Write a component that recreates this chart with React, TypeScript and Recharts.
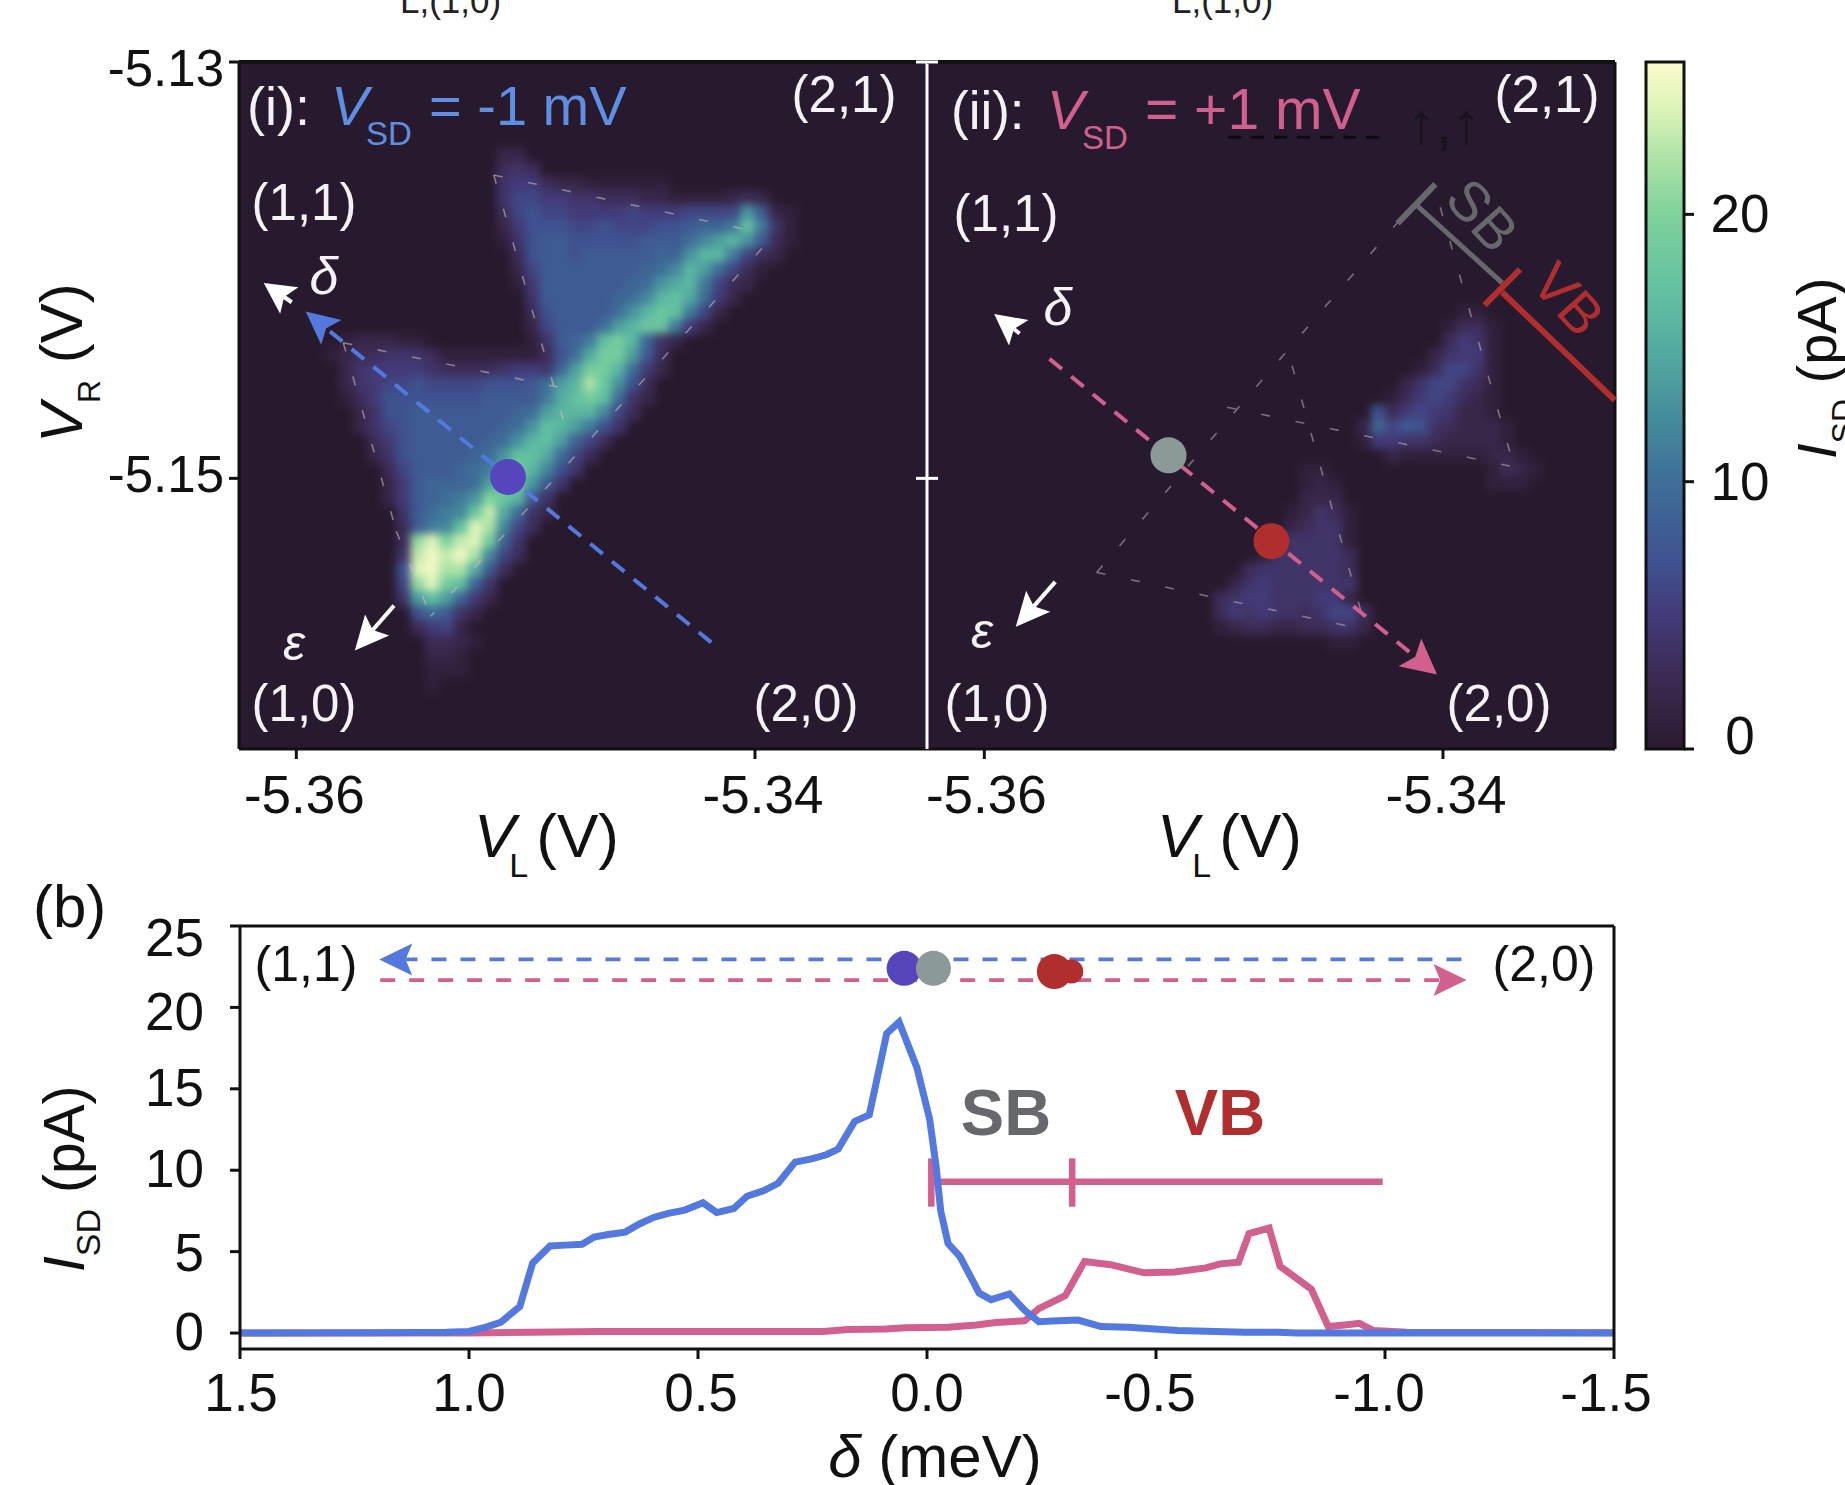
import { Bar, BarChart, CartesianGrid, Line, LineChart, ReferenceDot, ReferenceLine, Scatter, ScatterChart, XAxis, YAxis } from 'recharts';

const font = '"Liberation Sans", Arial, sans-serif';
const blue = '#5479DE';
const pink = '#D1608F';
const red = '#B02E2E';
const grey = '#66686C';
const white = '#F4F2F4';
const heatBack = '#281A2E';

// colour bar
const barValues = [0, 2.5, 5, 7, 10, 12.5, 15, 17, 20, 22, 24, 25.7];
const barColors = ['#2A1B2F', '#3B2A50', '#433A78', '#3F5290', '#3E6E98', '#458E9C', '#54ABA0', '#62C0A0', '#7ED29B', '#ABE2A6', '#DDF3B8', '#FBFBCB'];
const barTicks = [0, 10, 20];

// V_L / V_R axes of the two maps
const vlTicks = [-5.36, -5.34];
const vrTicks = [-5.15, -5.13];
const vlDomain = [-5.3625, -5.3325];
const vrDomain = [-5.163, -5.13];

// one string per heat map row, each char is a pA level in base 36
const leftFirstRow = 6;
const leftStarts = [18, 18, 18, 18, 18, 18, 18, 19, 19, 19, 20, 20, 20, 7, 6, 7, 7, 7, 8, 8, 9, 9, 10, 10, 10, 11, 11, 11, 11, 11, 11, 11, 12, 12, 13, 13, 13, 13];
const leftLevels = [
  '22', '343', '455322111111', '4665544333221111232', '36766555565556666d821', '2577766766677899bhb41',
  '1478877777888acegd831', '378878888899dggb632', '2688888889acgea631', '158888889adfgb632', '4888889acghfa52',
  '378888adgihb62', '26888aegiib52', '12221100000001489bhjg942', '12334443111111137afjje83', '2455554333345549ejjga52',
  '24566766667778aegmid73', '13577777778888bfhjha42', '247788888889aegggc63', '24678888889adhgeb74', '357888889adghe963',
  '24788889adhhfa63', '368889abgjgc74', '258999aejjd84', '2589abdkig84', '48abcinfa42', '38bchomc63', '3loknoj94',
  '4npnpmc63', '7opmmf83', '6lojh94', '4ehe952', '7a842', '3562', '3321', '221', '111', '1',
];

const rightFirstRow = 17;
const rightStarts = [37, 36, 36, 35, 34, 33, 32, 31, 30, 30, 32, 26, 26, 26, 25, 25, 24, 23, 22, 21, 20, 20, 20, 28];
const rightLevels = [
  '11', '1331', '3541', '24551', '136641', '2466431', '13565321', '735654221', '29687432221',
  '15544322221', '2111111221', '11000000000001321', '1210000000000111', '222', '12431', '23441', '344441', '1444443',
  '34444443', '245444444', '3455444552', '35454434663', '12332233442', '11',
];

// current traces of panel (b)
const blueDelta = [1.5, 1.208, 1.05, 1.0, 0.963, 0.931, 0.889, 0.861, 0.823, 0.79, 0.753, 0.727, 0.696, 0.659, 0.628, 0.597, 0.565, 0.529, 0.489, 0.459, 0.422, 0.393, 0.356, 0.325, 0.288, 0.252, 0.22, 0.194, 0.158, 0.126, 0.088, 0.061, 0.022, -0.006, -0.02, -0.03, -0.046, -0.072, -0.114, -0.14, -0.18, -0.213, -0.244, -0.286, -0.33, -0.38, -0.44, -0.547, -0.693, -0.766, -0.808, -1.5];
const blueCurrent = [0, 0.02, 0.05, 0.1, 0.37, 0.65, 1.63, 4.3, 5.35, 5.4, 5.45, 5.9, 6.05, 6.2, 6.7, 7.1, 7.35, 7.55, 8.0, 7.4, 7.65, 8.4, 8.75, 9.2, 10.5, 10.7, 10.95, 11.3, 13, 13.4, 18.4, 19.1, 16.3, 13.1, 10.2, 7.5, 5.5, 4.7, 2.45, 2.05, 2.4, 1.4, 0.7, 0.75, 0.8, 0.4, 0.35, 0.15, 0.05, 0.05, 0, 0];
const pinkDelta = [1.5, 1.0, 0.717, 0.226, 0.173, 0.09, 0.048, -0.046, -0.108, -0.15, -0.213, -0.244, -0.302, -0.344, -0.401, -0.474, -0.541, -0.609, -0.64, -0.68, -0.703, -0.747, -0.771, -0.839, -0.876, -0.912, -0.944, -0.975, -1.048, -1.5];
const pinkCurrent = [0, 0, 0.1, 0.1, 0.22, 0.25, 0.32, 0.35, 0.5, 0.65, 0.75, 1.5, 2.3, 4.4, 4.2, 3.7, 3.75, 4.0, 4.25, 4.35, 6.1, 6.45, 4.1, 2.7, 0.4, 0.5, 0.6, 0.15, 0.05, 0.02];
const deltaTicks = [1.5, 1.0, 0.5, 0, -0.5, -1.0, -1.5];
const currentTicks = [0, 5, 10, 15, 20, 25];

// faint bias triangle outlines, [V_L, V_R] pairs
const leftOutline = [
  [[-5.35139, -5.13543], [-5.3398, -5.13819]],
  [[-5.35139, -5.13543], [-5.34812, -5.14812]],
  [[-5.3397, -5.13896], [-5.35414, -5.15662]],
  [[-5.35795, -5.14349], [-5.34755, -5.14585]],
  [[-5.35795, -5.14349], [-5.35564, -5.15254]],
  [[-5.35564, -5.15254], [-5.35414, -5.15662]],
];
const rightOutline = [
  [[-5.3551, -5.15452], [-5.34335, -5.15728]],
  [[-5.3551, -5.15452], [-5.34193, -5.13764]],
  [[-5.34658, -5.14459], [-5.34335, -5.15728]],
  [[-5.34942, -5.14658], [-5.3369, -5.14945]],
  [[-5.34012, -5.13698], [-5.3369, -5.14945]],
];

const COLS = 48;
const heatCellWidth = 688 / COLS + 1;
const heatCellHeight = 687 / COLS + 1;
const OVER_HEAT = 700;

function buildCells(firstRow: number, starts: number[], levels: string[]) {
  const cells: { vl: number; vr: number; level: number }[] = [];
  levels.forEach((text, r) => {
    [...text].forEach((ch, c) => {
      const level = parseInt(ch, 36);
      if (!level) return;
      cells.push({
        vl: vlDomain[0] + ((starts[r] + c + 0.5) * (vlDomain[1] - vlDomain[0])) / COLS,
        vr: vrDomain[1] - ((firstRow + r + 0.5) * (vrDomain[1] - vrDomain[0])) / COLS,
        level,
      });
    });
  });
  return cells;
}

const leftCells = buildCells(leftFirstRow, leftStarts, leftLevels);
const rightCells = buildCells(rightFirstRow, rightStarts, rightLevels);
const blueRows = blueDelta.map((delta, i) => ({ delta, current: blueCurrent[i] }));
const pinkRows = pinkDelta.map((delta, i) => ({ delta, current: pinkCurrent[i] }));

const hex = (s: string) => [1, 3, 5].map((i) => parseInt(s.slice(i, i + 2), 16));
function levelColor(v: number) {
  let i = 0;
  while (i < barValues.length - 2 && v > barValues[i + 1]) i++;
  const t = Math.min(1, (v - barValues[i]) / (barValues[i + 1] - barValues[i]));
  const a = hex(barColors[i]);
  const b = hex(barColors[i + 1]);
  return `rgb(${a.map((n, k) => Math.round(n + (b[k] - n) * t)).join(',')})`;
}

const HeatCell = (p: any) => (
  <rect x={p.cx - heatCellWidth / 2} y={p.cy - heatCellHeight / 2} width={heatCellWidth} height={heatCellHeight} fill={levelColor(p.payload.level)} />
);

type ArrowOpts = { color: string; width: number; dash?: string; headLength?: number; headWidth?: number };
function arrowShape({ color, width, dash, headLength = 0, headWidth = 0 }: ArrowOpts) {
  return (p: any) => {
    const dx = p.x2 - p.x1;
    const dy = p.y2 - p.y1;
    const len = Math.hypot(dx, dy) || 1;
    const ux = dx / len;
    const uy = dy / len;
    const bx = p.x2 - ux * headLength;
    const by = p.y2 - uy * headLength;
    const nx = p.x2 - ux * headLength * 0.8;
    const ny = p.y2 - uy * headLength * 0.8;
    const w = headWidth / 2;
    return (
      <g>
        <line x1={p.x1} y1={p.y1} x2={headLength ? nx : p.x2} y2={headLength ? ny : p.y2} stroke={color} strokeWidth={width} strokeDasharray={dash} />
        {headLength > 0 && <polygon points={`${p.x2},${p.y2} ${bx - uy * w},${by + ux * w} ${nx},${ny} ${bx + uy * w},${by - ux * w}`} fill={color} />}
      </g>
    );
  };
}

function seg(a: number[], b: number[], opts: ArrowOpts, key?: string, zIndex = OVER_HEAT) {
  return (
    <ReferenceLine
      key={key}
      zIndex={zIndex}
      ifOverflow="visible"
      segment={[{ x: a[0], y: a[1] }, { x: b[0], y: b[1] }]}
      shape={arrowShape(opts)}
    />
  );
}

const tickText = (offsets: Record<string, number[]>, format: (v: number) => string, anchor: 'start' | 'middle' | 'end', size = 53) => (p: any) => {
  const [dx, dy] = offsets[String(p.payload.value)] ?? [0, 0];
  return (
    <text x={p.x + dx} y={p.y + dy} textAnchor={anchor} fontSize={size} fontFamily={font} fill="#111">
      {format(p.payload.value)}
    </text>
  );
};

const whiteTick = (p: any) => <line x1={p.x - 11} x2={p.x + 11} y1={p.y} y2={p.y} stroke="#fff" strokeWidth={3} />;

const black = { stroke: '#111', strokeWidth: 3 };
const layer = { position: 'absolute' as const, left: 0, top: 0 };

function T({ x, y, size = 49, fill = white, anchor = 'middle', italic, bold, rotate, children }: any) {
  return (
    <text
      x={x}
      y={y}
      fontSize={size}
      fill={fill}
      textAnchor={anchor}
      fontFamily={font}
      fontStyle={italic ? 'italic' : undefined}
      fontWeight={bold ? 700 : undefined}
      transform={rotate !== undefined ? `rotate(${rotate} ${x} ${y})` : undefined}
    >
      {children}
    </text>
  );
}

function VlTitle({ x }: { x: number }) {
  return (
    <T x={x} y={857} size={62} fill="#111" anchor="start">
      <tspan fontStyle="italic">V</tspan>
      <tspan fontSize={34} dy={20} dx={-6}>L</tspan>
      <tspan dy={-20} dx={8}>(V)</tspan>
    </T>
  );
}

function Labels() {
  return (
    <svg width={1845} height={1485} style={layer}>
      {/* cropped caption above the maps */}
      <T x={400} y={13} size={35} fill="#222" anchor="start">L,(1,0)</T>
      <T x={1172} y={13} size={35} fill="#222" anchor="start">L,(1,0)</T>

      {/* panel (i) */}
      <T x={247} y={125} size={54} anchor="start">(i):</T>
      <T x={331} y={125} size={56} fill="#5F8FE0" anchor="start" italic>V</T>
      <T x={366} y={145} size={33} fill="#5F8FE0" anchor="start">SD</T>
      <T x={429} y={125} size={56} fill="#5F8FE0" anchor="start">= -1 mV</T>
      <T x={844} y={112} size={51}>(2,1)</T>
      <T x={304} y={220} size={51}>(1,1)</T>
      <T x={304} y={721} size={51}>(1,0)</T>
      <T x={806} y={721} size={51}>(2,0)</T>
      <T x={324} y={294} size={52} italic>δ</T>
      <T x={294} y={660} size={50} italic>ε</T>

      {/* panel (ii) */}
      <T x={951} y={129} size={53} anchor="start">(ii):</T>
      <T x={1047} y={129} size={56} fill={pink} anchor="start" italic>V</T>
      <T x={1082} y={149} size={33} fill={pink} anchor="start">SD</T>
      <T x={1145} y={129} size={57} fill={pink} anchor="start">= +1 mV</T>
      <T x={1547} y={112} size={51}>(2,1)</T>
      <T x={1006} y={231} size={51}>(1,1)</T>
      <T x={997} y={721} size={51}>(1,0)</T>
      <T x={1499} y={721} size={51}>(2,0)</T>
      <T x={1058} y={325} size={52} italic>δ</T>
      <T x={982} y={648} size={50} italic>ε</T>
      <T x={1444} y={143} size={58} fill="#17121C">↑,↑</T>
      <T x={1468} y={228} size={56} fill={grey} rotate={48}>SB</T>
      <T x={1554} y={312} size={56} fill={red} rotate={48}>VB</T>

      {/* axis titles */}
      <VlTitle x={474} />
      <VlTitle x={1157} />
      <T x={82} y={443} size={60} fill="#111" anchor="start" rotate={-90}>
        <tspan fontStyle="italic">V</tspan>
        <tspan fontSize={32} dy={18}>R</tspan>
        <tspan dy={-18}> (V)</tspan>
      </T>
      <T x={1836} y={459} size={56} fill="#111" anchor="start" rotate={-90}>
        <tspan fontStyle="italic">I</tspan>
        <tspan fontSize={32} dy={18}>SD</tspan>
        <tspan dy={-18}> (pA)</tspan>
      </T>

      {/* panel (b) */}
      <T x={33} y={927} size={60} fill="#111" anchor="start">(b)</T>
      <T x={306} y={981} size={50} fill="#111">(1,1)</T>
      <T x={1544} y={981} size={50} fill="#111">(2,0)</T>
      <T x={1006} y={1135} size={65} fill={grey} bold>SB</T>
      <T x={1220} y={1135} size={65} fill={red} bold>VB</T>
      <T x={84} y={1272} size={57} fill="#111" anchor="start" rotate={-90}>
        <tspan fontStyle="italic">I</tspan>
        <tspan fontSize={34} dy={16}>SD</tspan>
        <tspan dy={-16}> (pA)</tspan>
      </T>
      <T x={935} y={1477} size={60} fill="#111">
        <tspan fontStyle="italic">δ</tspan> (meV)
      </T>
    </svg>
  );
}

function MapLeft() {
  return (
    <div style={layer} className="heat-panel">
      <ScatterChart width={1845} height={1485} margin={{ top: 62, left: 139, right: 918, bottom: 676 }}>
        <CartesianGrid horizontal={false} vertical={false} fill={heatBack} />
        <XAxis
          type="number"
          dataKey="vl"
          domain={vlDomain}
          ticks={vlTicks}
          height={60}
          allowDataOverflow
          axisLine={black}
          tickLine={black}
          tickSize={10}
          tickMargin={0}
          tick={tickText({ '-5.36': [8, 54], '-5.34': [8, 54] }, (v) => v.toFixed(2), 'middle')}
        />
        <YAxis
          type="number"
          dataKey="vr"
          domain={vrDomain}
          ticks={vrTicks}
          width={100}
          allowDataOverflow
          axisLine={black}
          tickLine={black}
          tickSize={10}
          tickMargin={0}
          tick={tickText({ '-5.13': [-5, 24], '-5.15': [-5, 14] }, (v) => v.toFixed(2), 'end', 51)}
        />
        <Scatter data={leftCells} shape={HeatCell} isAnimationActive={false} />
        {seg([-5.3625, -5.13], [-5.3325, -5.13], { color: '#111', width: 4 })}
        {leftOutline.map((s, i) => seg(s[0], s[1], { color: 'rgba(205,195,200,.55)', width: 1.6, dash: '9 26' }, `o${i}`))}
        {seg([-5.34191, -5.15788], [-5.35959, -5.14199], { color: blue, width: 4, dash: '16 12', headLength: 33, headWidth: 32 })}
        {seg([-5.3602, -5.14154], [-5.36142, -5.14061], { color: '#fff', width: 4, headLength: 31, headWidth: 32 })}
        {seg([-5.35574, -5.15611], [-5.35745, -5.15827], { color: '#fff', width: 4, headLength: 34, headWidth: 32 })}
        <ReferenceDot zIndex={OVER_HEAT} x={-5.35077} y={-5.14993} r={18} fill="#5546BE" stroke="none" ifOverflow="visible" />
      </ScatterChart>
    </div>
  );
}

function MapRight() {
  return (
    <div style={layer} className="heat-panel">
      <ScatterChart width={1845} height={1485} margin={{ top: 62, left: 887, right: 230, bottom: 676 }}>
        <CartesianGrid horizontal={false} vertical={false} fill={heatBack} />
        <XAxis
          type="number"
          dataKey="vl"
          domain={vlDomain}
          ticks={vlTicks}
          height={60}
          allowDataOverflow
          axisLine={black}
          tickLine={black}
          tickSize={10}
          tickMargin={0}
          tick={tickText({ '-5.36': [2, 54], '-5.34': [3, 54] }, (v) => v.toFixed(2), 'middle')}
        />
        <YAxis
          type="number"
          dataKey="vr"
          domain={vrDomain}
          ticks={vrTicks}
          width={40}
          allowDataOverflow
          axisLine={{ stroke: '#fff', strokeWidth: 3 }}
          tickLine={false}
          tickSize={0}
          tickMargin={0}
          tick={whiteTick}
        />
        <Scatter data={rightCells} shape={HeatCell} isAnimationActive={false} />
        {seg([-5.3625, -5.13], [-5.3325, -5.13], { color: '#111', width: 4 })}
        {seg([-5.3325, -5.13], [-5.3325, -5.163], { color: '#111', width: 3 })}
        {rightOutline.map((s, i) => seg(s[0], s[1], { color: 'rgba(205,195,200,.5)', width: 1.6, dash: '9 26' }, `o${i}`))}
        {seg([-5.34937, -5.13362], [-5.34271, -5.13362], { color: '#0d0a10', width: 3, dash: '13 10' })}
        {seg([-5.34121, -5.13682], [-5.33742, -5.14061], { color: grey, width: 5 })}
        {seg([-5.34198, -5.13775], [-5.34033, -5.13587], { color: grey, width: 6 })}
        {seg([-5.33742, -5.14106], [-5.33251, -5.14624], { color: red, width: 6 })}
        {seg([-5.33819, -5.14168], [-5.33664, -5.13996], { color: red, width: 6 })}
        {seg([-5.35716, -5.14426], [-5.34026, -5.15942], { color: pink, width: 4, dash: '16 12', headLength: 35, headWidth: 36 })}
        {seg([-5.35846, -5.14304], [-5.35957, -5.1421], { color: '#fff', width: 4, headLength: 31, headWidth: 32 })}
        {seg([-5.35691, -5.15497], [-5.35863, -5.15713], { color: '#fff', width: 4, headLength: 34, headWidth: 32 })}
        <ReferenceDot zIndex={OVER_HEAT} x={-5.35197} y={-5.14889} r={18} fill="#8B9A98" stroke="none" ifOverflow="visible" />
        <ReferenceDot zIndex={OVER_HEAT} x={-5.34748} y={-5.15302} r={18} fill={red} stroke="none" ifOverflow="visible" />
      </ScatterChart>
    </div>
  );
}

function ColorBar() {
  return (
    <div style={layer}>
      <BarChart width={1845} height={1485} data={[{ name: 'ISD', top: 25.7 }]} margin={{ top: 62, left: 1646, right: 61, bottom: 736 }} barCategoryGap={0}>
        <defs>
          <linearGradient id="isdBar" x1="0" y1="0" x2="0" y2="1">
            {barValues.map((v, i) => (
              <stop key={v} offset={1 - v / 25.7} stopColor={barColors[i]} />
            )).reverse()}
          </linearGradient>
        </defs>
        <XAxis dataKey="name" hide />
        <YAxis
          orientation="right"
          type="number"
          domain={[0, 25.7]}
          ticks={barTicks}
          width={100}
          axisLine={false}
          tickLine={black}
          tickSize={10}
          tickMargin={0}
          tick={tickText({ '0': [46, 5], '10': [46, 18], '20': [46, 18] }, String, 'middle')}
        />
        <Bar dataKey="top" fill="url(#isdBar)" stroke="#111" strokeWidth={3} isAnimationActive={false} />
      </BarChart>
    </div>
  );
}

function Traces() {
  return (
    <div style={layer}>
      <LineChart width={1845} height={1485} margin={{ top: 926, left: 140, right: 231, bottom: 76 }}>
        <XAxis
          type="number"
          dataKey="delta"
          domain={[-1.5, 1.5]}
          reversed
          ticks={deltaTicks}
          height={60}
          axisLine={black}
          tickLine={black}
          tickSize={10}
          tickMargin={0}
          tick={tickText(
            { '1.5': [1, 52], '1': [0, 52], '0.5': [3, 52], '0': [0, 52], '-0.5': [-6, 52], '-1': [-6, 52], '-1.5': [-8, 52] },
            (v) => v.toFixed(1),
            'middle',
          )}
        />
        <YAxis
          type="number"
          domain={[-0.98, 25]}
          ticks={currentTicks}
          width={100}
          axisLine={black}
          tickLine={black}
          tickSize={10}
          tickMargin={0}
          tick={tickText({ '0': [-26, 17], '5': [-26, 19], '10': [-26, 17], '15': [-26, 17], '20': [-26, 23], '25': [-26, 30] }, String, 'end')}
        />
        {seg([1.5, 25], [-1.5, 25], { color: '#111', width: 3 })}
        {seg([-1.5, 25], [-1.5, -0.98], { color: '#111', width: 3 })}
        {seg([-1.167, 22.95], [1.196, 22.95], { color: blue, width: 3.8, dash: '15 14', headLength: 33, headWidth: 32 })}
        {seg([1.194, 21.68], [-1.178, 21.68], { color: pink, width: 3.8, dash: '15 14', headLength: 33, headWidth: 32 })}
        <ReferenceDot zIndex={OVER_HEAT} x={0.05} y={22.4} r={17.5} fill="#5546BE" stroke="none" ifOverflow="visible" />
        <ReferenceDot zIndex={OVER_HEAT} x={-0.014} y={22.4} r={17.5} fill="#8B9A98" stroke="none" ifOverflow="visible" />
        <ReferenceDot zIndex={OVER_HEAT} x={-0.315} y={22.2} r={12} fill={red} stroke="none" ifOverflow="visible" />
        <ReferenceDot zIndex={OVER_HEAT} x={-0.278} y={22.2} r={17.5} fill={red} stroke="none" ifOverflow="visible" />
        {seg([-0.0094, 9.29], [-0.995, 9.29], { color: pink, width: 6.5 }, undefined, 300)}
        {seg([-0.0094, 10.73], [-0.0094, 7.76], { color: pink, width: 6.5 }, undefined, 300)}
        {seg([-0.317, 10.73], [-0.317, 7.76], { color: pink, width: 6.5 }, undefined, 300)}
        <Line data={pinkRows} dataKey="current" type="linear" stroke={pink} strokeWidth={7} dot={false} isAnimationActive={false} />
        <Line data={blueRows} dataKey="current" type="linear" stroke={blue} strokeWidth={7} dot={false} isAnimationActive={false} />
      </LineChart>
    </div>
  );
}

export default function App() {
  return (
    <div style={{ ...layer, width: 1845, height: 1485, overflow: 'hidden', background: '#fff', fontFamily: font }}>
      <style>{`.heat-panel .recharts-scatter { filter: blur(4.5px); }`}</style>
      <MapLeft />
      <MapRight />
      <ColorBar />
      <Traces />
      <Labels />
    </div>
  );
}
